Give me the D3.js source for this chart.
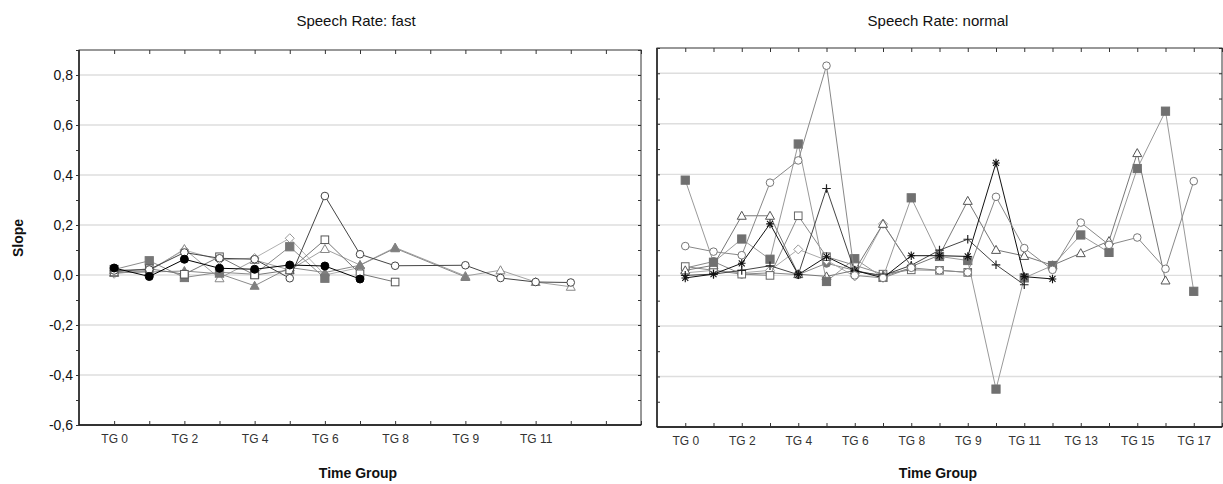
<!DOCTYPE html>
<html><head><meta charset="utf-8">
<script src="https://cdn.jsdelivr.net/npm/d3@7"></script>
<style>body{margin:0;background:#fff}svg{display:block}</style>
</head><body>
<svg id="c" width="1223" height="484"></svg>
<script>
// ---------- data ----------
const fastCats = ["TG 0","TG 1","TG 2","TG 3","TG 4","TG 5","TG 6","TG 7","TG 8","TG 8b","TG 9","TG 10","TG 11","TG 12"];
const fastTickLabels = ["TG 0","TG 2","TG 4","TG 6","TG 8","TG 9","TG 11"];
const normalCats = ["TG 0","TG 1","TG 2","TG 3","TG 4","TG 5","TG 6","TG 7","TG 8","TG 8b","TG 9","TG 10","TG 11","TG 12","TG 13","TG 14","TG 15","TG 16","TG 17"];
const normalTickLabels = ["TG 0","TG 2","TG 4","TG 6","TG 8","TG 9","TG 11","TG 13","TG 15","TG 17"];
const yTicks = [-0.6,-0.4,-0.2,0,0.2,0.4,0.6,0.8];

// fast panel series
const fastOpenCircle   = [0.018,0.022,0.090,0.067,0.063,-0.013,0.316,0.083,0.037,null,0.039,-0.012,-0.028,-0.030];
const fastBlackCircle  = [0.028,-0.006,0.063,0.027,0.023,0.040,0.036,-0.016];
const fastOpenSquare   = [0.012,0.025,0.003,0.073,0.000,0.020,0.141,0.005,-0.028];
const fastGraySquare   = [0.022,0.057,-0.010,0.011,0.003,0.113,-0.013];
const fastGrayTriangle = [0.010,0.012,0.016,0.005,-0.043,0.030,0.010,0.039,0.107,null,-0.008];
const fastOpenTriangle = [0.008,0.015,0.104,-0.013,0.060,0.020,0.104,0.040,0.110,null,-0.004,0.019,-0.028,-0.047];
const fastOpenDiamond  = [0.005,0.020,0.100,0.060,0.068,0.147,0.000,0.030];

// normal panel series
const normGraySquare   = [0.377,0.052,0.144,0.064,0.520,-0.024,0.066,-0.008,0.307,0.075,0.059,-0.450,-0.010,0.039,0.160,0.091,0.423,0.650,-0.063];
const normOpenCircle   = [0.116,0.094,0.080,0.367,0.455,0.830,0.000,-0.010,0.030,0.020,0.012,0.311,0.108,0.022,0.209,0.121,0.150,0.026,0.373];
const normOpenTriangle = [0.020,0.040,0.236,0.236,0.005,-0.004,0.020,0.204,0.035,0.080,0.295,0.101,0.077,0.040,0.088,0.136,0.484,-0.020];
const normAsterisk     = [-0.010,0.005,0.048,0.204,0.003,0.074,0.020,-0.010,0.078,0.078,0.075,0.445,-0.005,-0.014];
const normPlus         = [0.000,0.005,0.020,0.038,0.003,0.344,0.016,0.000,0.040,0.100,0.143,0.042,-0.037];
const normOpenSquare   = [0.035,0.020,0.005,0.000,0.236,0.074,0.040,0.005,0.022,0.020,0.012];
const normOpenDiamond  = [0.010,0.020,0.010,0.020,0.103,0.060,-0.004,0.204,0.035];
const normGrayCircle   = [0.029,0.055,0.005,0.010,0.003,0.048,0.020,-0.004,0.030];

// ---------- drawing ----------
const svg = d3.select("#c");
const FONT = "'Liberation Sans', Arial, sans-serif";

function drawMarker(g, m, cx, cy, col){
  const r=3.8;
  if(m==="circleOpen") g.append("circle").attr("cx",cx).attr("cy",cy).attr("r",r).attr("fill","#fff").attr("stroke",col);
  else if(m==="circleFill") g.append("circle").attr("cx",cx).attr("cy",cy).attr("r",r+0.2).attr("fill",col).attr("stroke",col);
  else if(m==="squareOpen") g.append("rect").attr("x",cx-r).attr("y",cy-r).attr("width",2*r).attr("height",2*r).attr("fill","#fff").attr("stroke",col);
  else if(m==="squareFill") g.append("rect").attr("x",cx-r-0.3).attr("y",cy-r-0.3).attr("width",2*r+0.6).attr("height",2*r+0.6).attr("fill",col).attr("stroke",col);
  else if(m==="triOpen"||m==="triFill") g.append("path").attr("d",`M${cx},${cy-r-0.7}L${cx+r+0.7},${cy+r-0.3}L${cx-r-0.7},${cy+r-0.3}Z`).attr("fill",m==="triOpen"?"#fff":col).attr("stroke",col);
  else if(m==="diamondOpen") g.append("path").attr("d",`M${cx},${cy-r-0.7}L${cx+r+0.7},${cy}L${cx},${cy+r+0.7}L${cx-r-0.7},${cy}Z`).attr("fill","#fff").attr("stroke",col);
  else if(m==="plus") g.append("path").attr("d",`M${cx-r-0.5},${cy}H${cx+r+0.5}M${cx},${cy-r-0.5}V${cy+r+0.5}`).attr("stroke",col).attr("stroke-width",1.2);
  else if(m==="asterisk") g.append("path").attr("d",`M${cx-r},${cy}H${cx+r}M${cx},${cy-r-0.5}V${cy+r+0.5}M${cx-r+0.8},${cy-r+0.8}L${cx+r-0.8},${cy+r-0.8}M${cx-r+0.8},${cy+r-0.8}L${cx+r-0.8},${cy-r+0.8}`).attr("stroke",col).attr("stroke-width",1.1);
}

function panel(o){
  const g = svg.append("g");
  const x = d3.scalePoint().domain(["_s"].concat(o.cats, o.extra)).range([o.x0, o.x1]);
  const y = d3.scaleLinear().domain([-0.6,0.9]).range([o.y1, o.y0]);
  g.selectAll(".grid").data(yTicks.filter(t=>t>-0.6)).join("line")
    .attr("x1",o.x0).attr("x2",o.x1).attr("y1",d=>y(d)).attr("y2",d=>y(d))
    .attr("stroke","#dedede").attr("stroke-width",1.4);
  g.append("rect").attr("x",o.x0).attr("y",o.y0).attr("width",o.x1-o.x0).attr("height",o.y1-o.y0)
    .attr("fill","none").attr("stroke","#333").attr("stroke-width",1);
  g.append("line").attr("x1",o.x0).attr("x2",o.x1).attr("y1",o.y1).attr("y2",o.y1).attr("stroke","#111").attr("stroke-width",1.5);
  g.append("line").attr("x1",o.x0).attr("x2",o.x0).attr("y1",o.y0).attr("y2",o.y1).attr("stroke","#222").attr("stroke-width",1.5);
  // y axis
  const yAll = d3.range(-6,10).map(v=>v/10);
  const isMajor = d => yTicks.some(t=>Math.abs(t-d)<1e-9);
  const yAx = d3.axisLeft(y).tickValues(yAll).tickSize(o.showY?3:-3)
    .tickFormat(d=> (o.showY && isMajor(d)) ? d3.format(".1f")(d).replace(".",",").replace("\u2212","-") : "");
  const ya = g.append("g").attr("transform",`translate(${o.x0},0)`).call(yAx);
  ya.select(".domain").remove();
  ya.selectAll("line").attr("stroke","#333");
  ya.selectAll("text").attr("font-family",FONT).attr("font-size",14).attr("fill","#111").attr("x",-6);
  const yr = g.append("g").attr("transform",`translate(${o.x1},0)`).call(d3.axisLeft(y).tickValues(yAll).tickSize(3).tickFormat(""));
  yr.select(".domain").remove(); yr.selectAll("line").attr("stroke","#333");
  // x axis
  const xs = x.domain().slice(1);
  const xAx = d3.axisBottom(x).tickValues(xs).tickSizeInner(-4).tickSizeOuter(0)
     .tickFormat((d,i)=> (i%2===0 && i/2 < o.ticks.length && d===o.cats[i]) ? o.ticks[i/2] : "");
  const xa = g.append("g").attr("transform",`translate(0,${o.y1})`).call(xAx);
  xa.select(".domain").remove();
  xa.selectAll("line").attr("stroke","#333");
  xa.selectAll("text").attr("font-family",FONT).attr("font-size",12).attr("fill","#333").attr("y",9).attr("dy","0.71em");
  const xt = g.append("g").attr("transform",`translate(0,${o.y0})`).call(d3.axisTop(x).tickValues(xs).tickSizeInner(-4).tickSizeOuter(0).tickFormat(""));
  xt.select(".domain").remove(); xt.selectAll("line").attr("stroke","#333");
  // titles
  g.append("text").attr("x",o.tx).attr("y",26).attr("text-anchor","middle")
    .attr("font-family",FONT).attr("font-size",15).attr("fill","#111").text(o.title);
  g.append("text").attr("x",o.ax).attr("y",478).attr("text-anchor","middle")
    .attr("font-family",FONT).attr("font-size",14).attr("font-weight","bold").attr("fill","#111").text("Time Group");
  // series
  const line = d3.line().x(d=>x(d.c)).y(d=>y(d.v));
  o.series.forEach(s=>{
    const pts = s.values.map((v,i)=>({c:o.cats[i], v})).filter(d=>d.v!=null);
    g.append("path").datum(pts).attr("d",line).attr("fill","none").attr("stroke",s.line).attr("stroke-width",1);
    const mg = g.append("g");
    pts.forEach(p=> drawMarker(mg, s.marker, x(p.c), y(p.v), s.mcolor));
  });
}

panel({
  title:"Speech Rate: fast", x0:79, x1:641, y0:50, y1:425, showY:true, tx:356, ax:358,
  cats:fastCats, extra:["_e1","_e2"], ticks:fastTickLabels,
  series:[
    {values:fastOpenDiamond, marker:"diamondOpen", line:"#b0b0b0", mcolor:"#999"},
    {values:fastOpenTriangle, marker:"triOpen", line:"#a0a0a0", mcolor:"#888"},
    {values:fastGrayTriangle, marker:"triFill", line:"#8a8a8a", mcolor:"#808080"},
    {values:fastGraySquare, marker:"squareFill", line:"#8c8c8c", mcolor:"#777"},
    {values:fastOpenSquare, marker:"squareOpen", line:"#777", mcolor:"#555"},
    {values:fastOpenCircle, marker:"circleOpen", line:"#444", mcolor:"#444"},
    {values:fastBlackCircle, marker:"circleFill", line:"#000", mcolor:"#000"}
  ]
});
panel({
  title:"Speech Rate: normal", x0:657, x1:1222, y0:48, y1:427, showY:false, tx:938, ax:938,
  cats:normalCats, extra:["_e1"], ticks:normalTickLabels,
  series:[
    {values:normGrayCircle, marker:"circleFill", line:"#888", mcolor:"#777"},
    {values:normOpenDiamond, marker:"diamondOpen", line:"#aaa", mcolor:"#999"},
    {values:normOpenSquare, marker:"squareOpen", line:"#888", mcolor:"#666"},
    {values:normOpenTriangle, marker:"triOpen", line:"#777", mcolor:"#555"},
    {values:normGraySquare, marker:"squareFill", line:"#999", mcolor:"#707070"},
    {values:normPlus, marker:"plus", line:"#444", mcolor:"#222"},
    {values:normAsterisk, marker:"asterisk", line:"#111", mcolor:"#111"},
    {values:normOpenCircle, marker:"circleOpen", line:"#888", mcolor:"#777"}
  ]
});
svg.append("text").attr("transform","translate(23,238) rotate(-90)").attr("text-anchor","middle")
  .attr("font-family",FONT).attr("font-size",14).attr("font-weight","bold").attr("fill","#111").text("Slope");
</script>
</body></html>
